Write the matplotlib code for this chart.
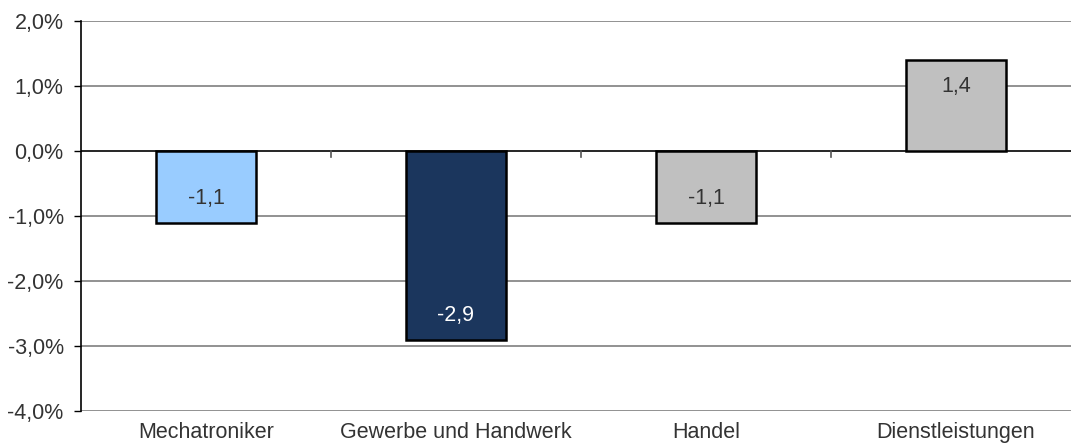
import matplotlib.pyplot as plt
import numpy as np

plt.rcParams['font.family'] = ['Liberation Sans', 'DejaVu Sans']

kategorien = ['Mechatroniker', 'Gewerbe und Handwerk', 'Handel', 'Dienstleistungen']
werte = [-1.1, -2.9, -1.1, 1.4]
farben = ['#99ccff', '#1b365d', '#c0c0c0', '#c0c0c0']
textfarben = ['#333333', 'white', '#333333', '#333333']
yticks = [-4, -3, -2, -1, 0, 1, 2]

fig = plt.figure(figsize=(10.71, 4.45), dpi=100)
ax = fig.add_axes([81/1071, 33.7/445, 1000/1071, 390/445])

x = np.arange(len(kategorien))
ax.set_xlim(-0.5, len(kategorien) - 0.5)
ax.set_ylim(-4, 2)

for y in yticks:
    if y == 0:
        continue
    ax.axhline(y, color='#7f7f7f', lw=1.2, zorder=0)

bars = ax.bar(x, werte, width=0.4, color=farben, edgecolor='black', linewidth=1.8, zorder=3)
ax.axhline(0, color='black', lw=1.2, zorder=2)

# kleine Striche unter der Kategorienachse
for b in np.arange(0.5, len(kategorien) - 0.5, 1):
    ax.plot([b, b], [0, -0.09], color='#555555', lw=1.2, zorder=2)

for i, v in enumerate(werte):
    off = -19 if v > 0 else 17.5
    ax.annotate(('%.1f' % v).replace('.', ','), (x[i], v), xytext=(0, off),
                textcoords='offset points', ha='center', va='center',
                fontsize=15.5, color=textfarben[i], zorder=4)

ax.set_yticks(yticks)
ax.set_yticklabels([('%.1f%%' % y).replace('.', ',') for y in yticks], fontsize=15.5, color='#333333')
ax.set_xticks(x)
ax.set_xticklabels(kategorien, fontsize=15.5, color='#333333')
ax.tick_params(axis='x', length=0, pad=8)
ax.tick_params(axis='y', length=5, width=1, direction='out', pad=7.5)

for s in ['top', 'right', 'bottom']:
    ax.spines[s].set_visible(False)
ax.spines['left'].set_color('black')
ax.spines['left'].set_linewidth(1.2)

fig.savefig('out.png', dpi=100)
